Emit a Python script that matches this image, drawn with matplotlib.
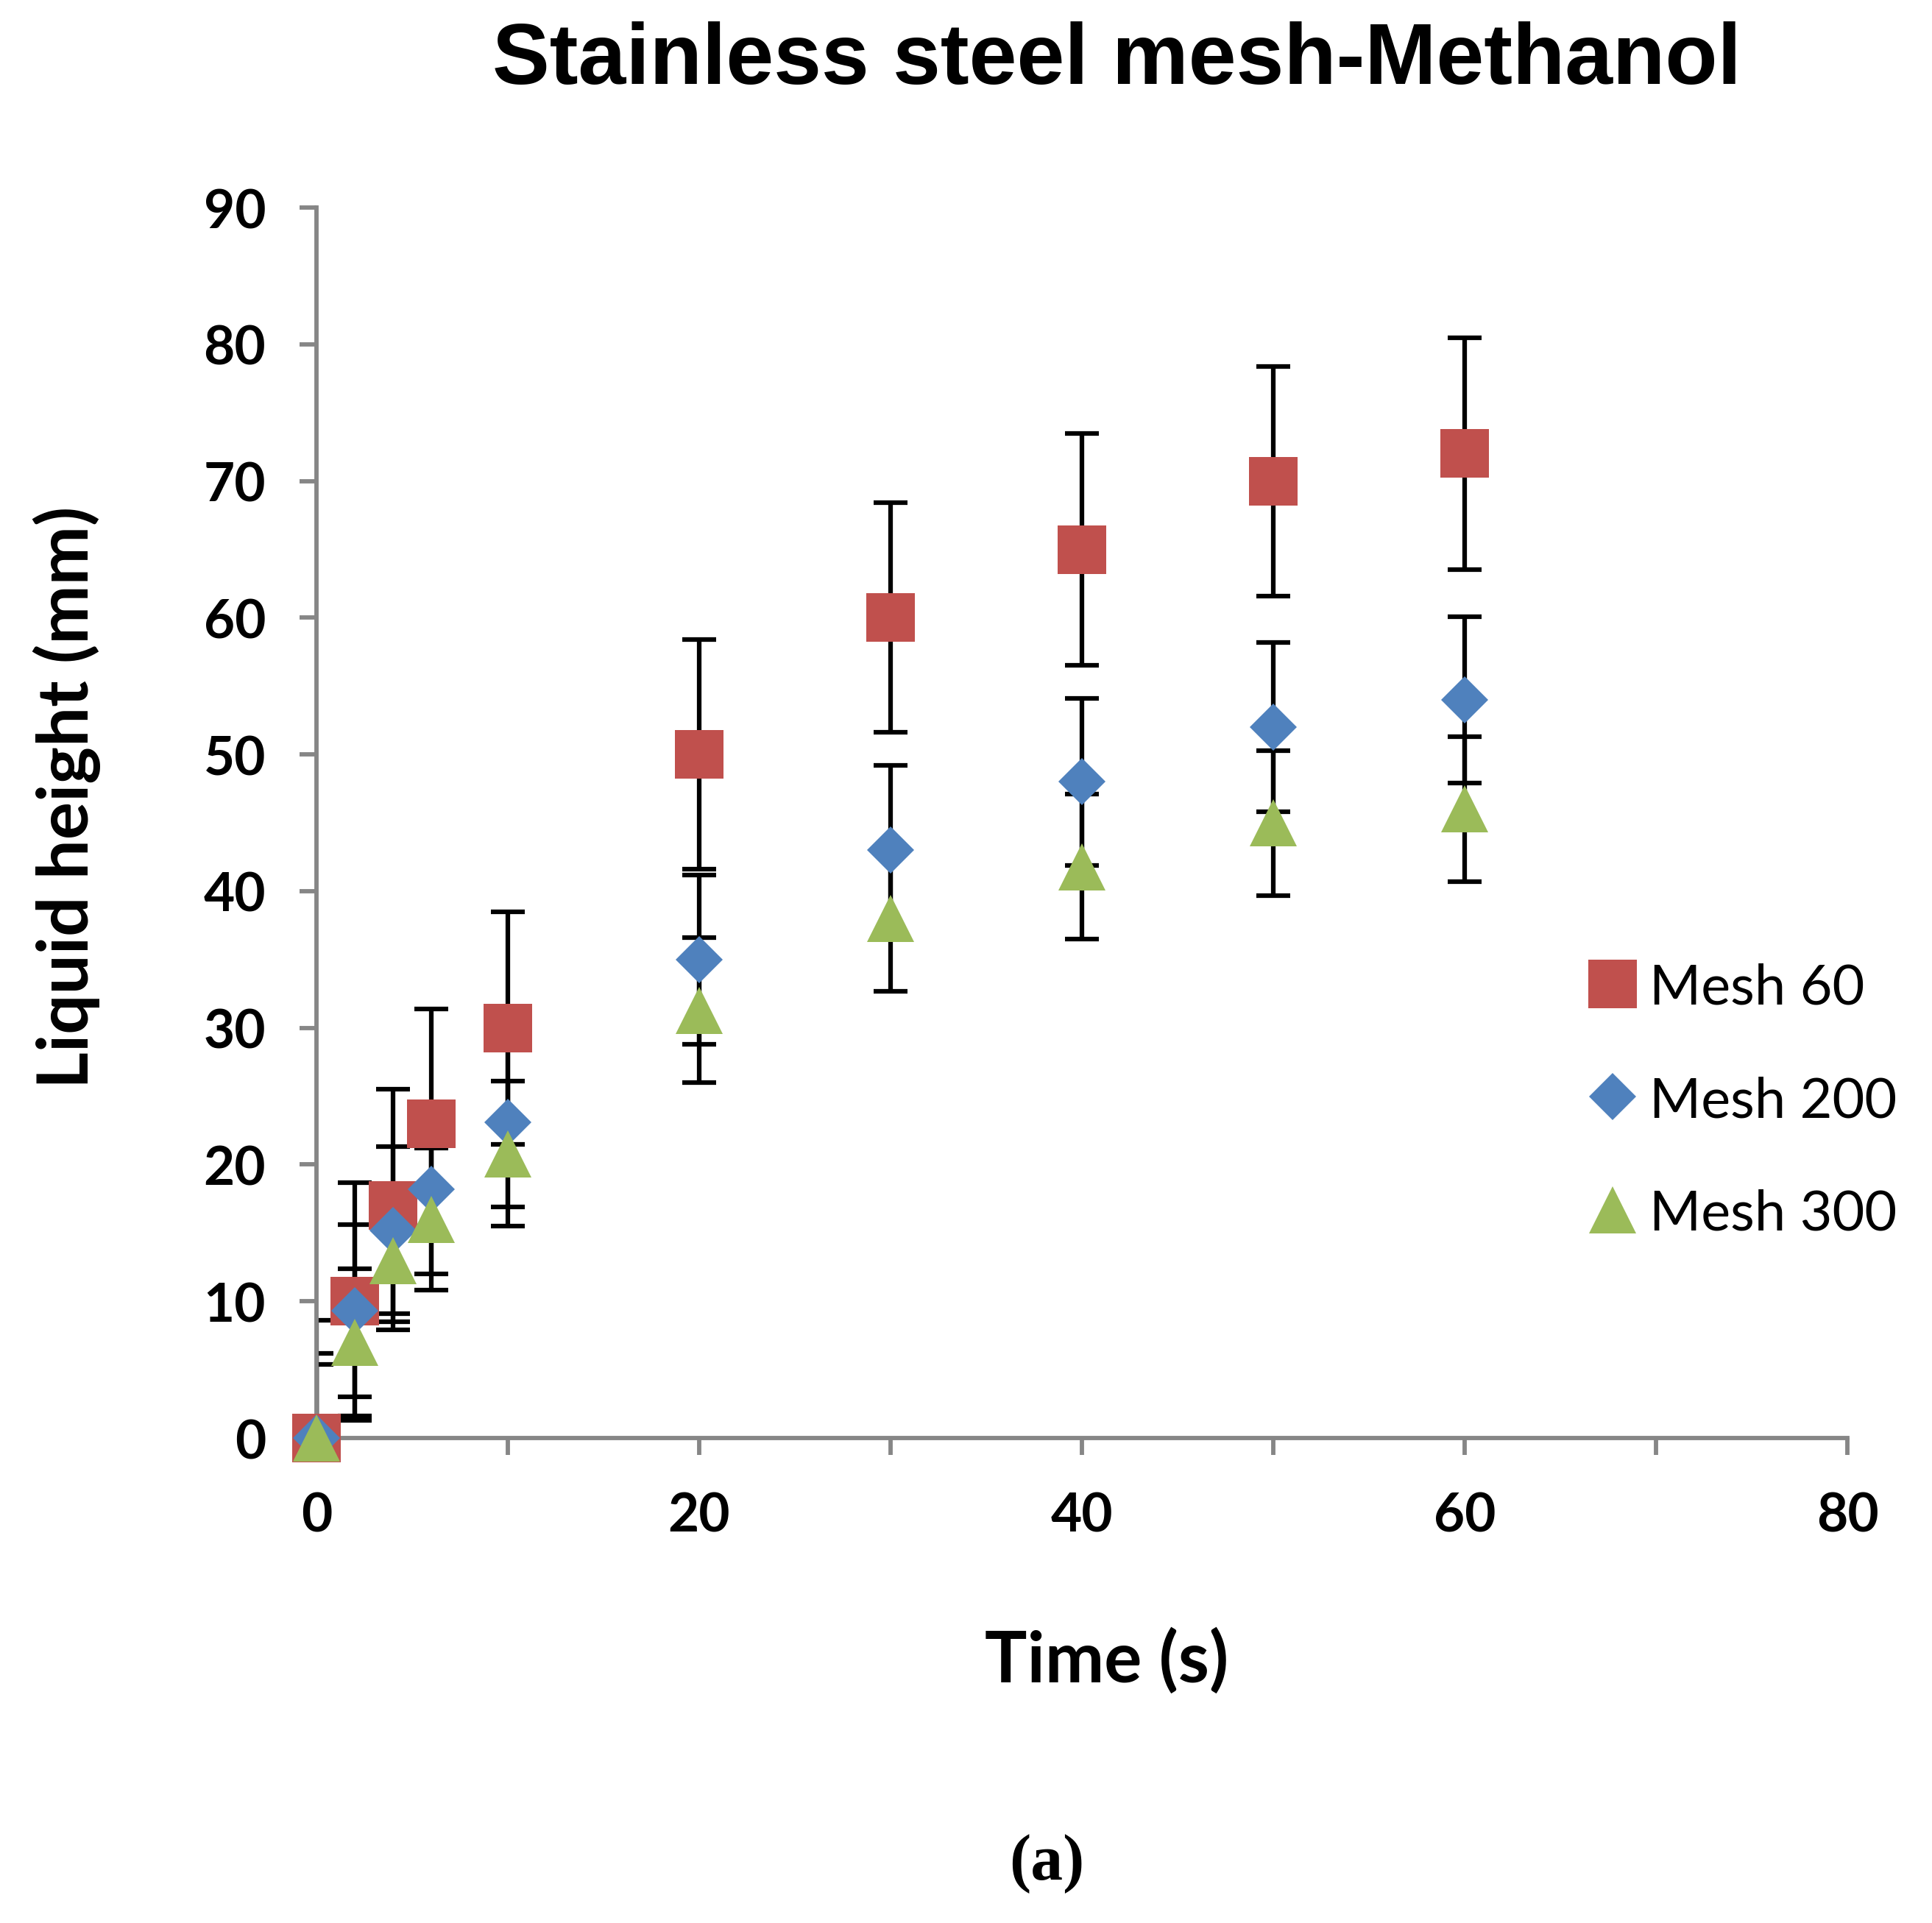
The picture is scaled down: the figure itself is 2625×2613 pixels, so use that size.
#!/usr/bin/env python3

# Liquid height vs time for stainless steel meshes in methanol
# (Excel style scatter with error bars)

import matplotlib
matplotlib.use('Agg')
import matplotlib.pyplot as plt
from matplotlib.ticker import MultipleLocator

# Data
time = [0, 2, 4, 6, 10, 20, 30, 40, 50, 60]

mesh60 = [0, 10, 17, 23, 30, 50, 60, 65, 70, 72]
mesh60_err = [8.6, 8.7, 8.5, 8.4, 8.5, 8.4, 8.4, 8.5, 8.4, 8.5]

mesh200 = [0, 9.3, 15.2, 18.2, 23.1, 35, 43, 48, 52, 54]
mesh200_err = [6.2, 6.3, 6.1, 6.2, 6.2, 6.2, 6.2, 6.1, 6.2, 6.1]

mesh300 = [0, 7, 13, 16, 20.8, 31.3, 38, 41.8, 45, 46]
mesh300_err = [5.4, 5.4, 5.1, 5.2, 5.3, 5.3, 5.3, 5.3, 5.3, 5.3]

labels = ["Mesh 60", "Mesh 200", "Mesh 300"]
colors = ['#C0504D', '#4F81BD', '#9BBB59']
markers = ['s', 'D', '^']
msizes = [15.8, 10.8, 15.3]

axis_gray = '#868686'
label_font = 'Lato'

fig = plt.figure(figsize=(8.75, 8.7133), dpi=300)
ax = fig.add_axes([0.1638, 0.2521, 0.7924, 0.6396])

series = [(mesh60, mesh60_err), (mesh200, mesh200_err), (mesh300, mesh300_err)]

# Error bars first, markers on top
for (vals, err) in series:
    ax.errorbar(time, vals, yerr=err, fmt='none', ecolor='black',
                elinewidth=1.5, capsize=5.5, capthick=1.5, zorder=2)

handles = []
for i, (vals, err) in enumerate(series):
    h, = ax.plot(time, vals, linestyle='none', marker=markers[i],
                 markersize=msizes[i], color=colors[i],
                 markeredgewidth=0, clip_on=False, zorder=3 + i,
                 label=labels[i])
    handles.append(h)

# Axes limits and ticks
ax.set_xlim(0, 80)
ax.set_ylim(0, 90)
ax.xaxis.set_major_locator(MultipleLocator(20))
ax.xaxis.set_minor_locator(MultipleLocator(10))
ax.yaxis.set_major_locator(MultipleLocator(10))

ax.spines['right'].set_visible(False)
ax.spines['top'].set_visible(False)
for s in ['left', 'bottom']:
    ax.spines[s].set_color(axis_gray)
    ax.spines[s].set_linewidth(1.4)

ax.tick_params(axis='both', which='both', direction='out', length=5.5,
               width=1.4, color=axis_gray)
ax.tick_params(axis='y', pad=11)
ax.tick_params(axis='x', pad=12)

for t in ax.get_xticklabels() + ax.get_yticklabels():
    t.set_fontfamily(label_font)
    t.set_fontweight('bold')
    t.set_fontsize(17.5)

# Axis names
ax.set_xlabel('Time (s)', fontfamily=label_font, fontweight='bold',
              fontsize=23, va='center', ha='center')
ax.xaxis.set_label_coords(0.516, -0.1805)
ax.set_ylabel('Liquid height (mm)', fontfamily=label_font,
              fontweight='bold', fontsize=23, va='center', ha='center')
ax.yaxis.set_label_coords(-0.163, 0.5216)

# Title
fig.text(0.578, 0.968, 'Stainless steel mesh-Methanol',
         fontfamily='Liberation Sans', fontweight='bold', fontsize=28,
         ha='center', va='center')

# Legend with markers only
ax.legend(handles=handles, loc='center left',
          bbox_to_anchor=(0.8232, 0.4275), bbox_transform=fig.transFigure,
          frameon=False, borderpad=0, borderaxespad=0, handlelength=0.8,
          handletextpad=0.25, labelspacing=1.12,
          prop={'family': label_font, 'size': 18.2})

# Panel letter
fig.text(0.5417, 0.031, '(a)', fontfamily='Liberation Serif',
         fontweight='bold', fontsize=21, ha='center', va='center')

# Save figure
plt.savefig('out.png', dpi=300)
